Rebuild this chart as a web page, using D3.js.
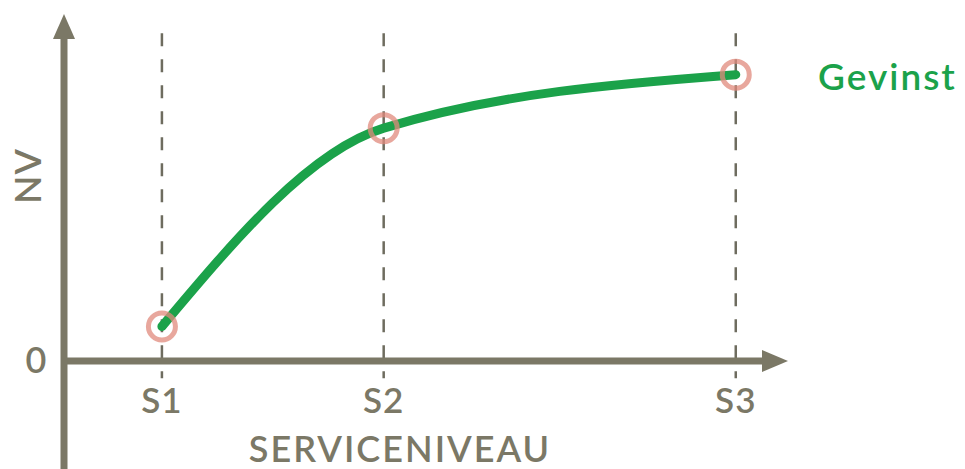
<!DOCTYPE html>
<html>
<head>
<meta charset="utf-8">
<script src="https://cdn.jsdelivr.net/npm/d3@7"></script>
<style>
  body { margin: 0; background: #fff; }
  text { font-family: Lato, "Open Sans", sans-serif; font-weight: 600; }
</style>
</head>
<body>
<script>
// data
const levels = ["S1", "S2", "S3"];
const serviceLevel = [13.6, 44.4, 93.3];
const gevinst = [10, 67.5, 83];
const seriesName = "Gevinst";

let width = 965, height = 469;
const axisColor = "#7b7866";
const green = "#1ba24a";

let svg = d3.select("body")
  .append("svg")
  .attr("width", width)
  .attr("height", height);

// scales
const xScale = d3.scaleLinear().domain([0, 100]).range([64, 784]);
const yScale = d3.scaleLinear().domain([0, 100]).range([361, 16]);

const pts = levels.map((l, i) => ({ label: l, x: serviceLevel[i], y: gevinst[i] }));

// dashed guides
svg.selectAll(".guide")
  .data(pts)
  .enter()
  .append("line")
  .attr("class", "guide")
  .attr("x1", d => xScale(d.x))
  .attr("x2", d => xScale(d.x))
  .attr("y1", yScale(95))
  .attr("y2", yScale(-5))
  .attr("stroke", "#6e6c5f")
  .attr("stroke-width", 2.5)
  .attr("stroke-dasharray", "13,13");

// axes with arrows
svg.append("line")
  .attr("x1", xScale(0)).attr("x2", 766)
  .attr("y1", yScale(0)).attr("y2", yScale(0))
  .attr("stroke", axisColor).attr("stroke-width", 7);

svg.append("line")
  .attr("x1", xScale(0)).attr("x2", xScale(0))
  .attr("y1", height).attr("y2", 36)
  .attr("stroke", axisColor).attr("stroke-width", 7);

// arrow heads
svg.append("path")
  .attr("d", `M${xScale(0) - 11},39 L${xScale(0)},14 L${xScale(0) + 11},39 Z`)
  .attr("fill", axisColor);
svg.append("path")
  .attr("d", `M762,${yScale(0) - 11} L788,${yScale(0)} L762,${yScale(0) + 11} Z`)
  .attr("fill", axisColor);

// curve
const line = d3.line()
  .x(d => xScale(d.x))
  .y(d => yScale(d.y))
  .curve(d3.curveMonotoneX);

svg.append("path")
  .datum(pts)
  .attr("d", line)
  .attr("fill", "none")
  .attr("stroke", green)
  .attr("stroke-width", 9)
  .attr("stroke-linecap", "round");

// circles
svg.selectAll(".pt")
  .data(pts)
  .enter()
  .append("circle")
  .attr("class", "pt")
  .attr("cx", d => xScale(d.x))
  .attr("cy", d => yScale(d.y))
  .attr("r", 13.5)
  .attr("fill", "none")
  .attr("stroke", "#e08a7c")
  .attr("stroke-opacity", 0.75)
  .attr("stroke-width", 5);

// tick labels
svg.selectAll(".tick-label")
  .data(pts)
  .enter()
  .append("text")
  .attr("class", "tick-label")
  .attr("x", d => xScale(d.x))
  .attr("y", 413)
  .attr("text-anchor", "middle")
  .attr("fill", axisColor)
  .style("font-size", "35px")
  .style("letter-spacing", "1px")
  .text(d => d.label);

svg.append("text")
  .attr("x", 36)
  .attr("y", 373)
  .attr("text-anchor", "middle")
  .attr("fill", axisColor)
  .style("font-size", "36px")
  .text("0");

// axis titles
svg.append("text")
  .attr("x", 400)
  .attr("y", 462)
  .attr("text-anchor", "middle")
  .attr("fill", axisColor)
  .style("font-size", "36px")
  .style("letter-spacing", "2px")
  .text("SERVICENIVEAU");

svg.append("text")
  .attr("transform", "translate(41,176)rotate(-90)")
  .attr("text-anchor", "middle")
  .attr("fill", axisColor)
  .style("font-size", "37px")
  .style("letter-spacing", "1px")
  .text("NV");

// series label
svg.append("text")
  .attr("x", 818)
  .attr("y", 90)
  .attr("fill", green)
  .style("font-size", "37px")
  .style("letter-spacing", "2px")
  .text(seriesName);
</script>
</body>
</html>
